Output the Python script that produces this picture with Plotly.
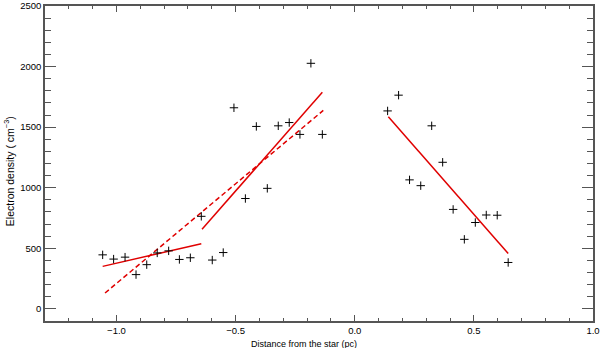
import plotly.graph_objects as go

# Measured electron densities (left and right of the star)
left_x = [-1.058, -1.012, -0.964, -0.918, -0.873, -0.829, -0.781, -0.736, -0.690, -0.644,
          -0.598, -0.552, -0.507, -0.459, -0.413, -0.367, -0.321, -0.275, -0.230, -0.184, -0.136]
left_y = [446, 411, 427, 283, 365, 462, 479, 408, 422, 764,
          403, 465, 1660, 911, 1506, 995, 1511, 1538, 1440, 2027, 1440]

right_x = [0.138, 0.184, 0.230, 0.277, 0.323, 0.369, 0.413, 0.460, 0.506, 0.552, 0.598, 0.644]
right_y = [1634, 1764, 1065, 1017, 1511, 1210, 821, 574, 713, 775, 773, 383]

# Linear fits (end points)
fit_outer_x = [-1.058, -0.644]
fit_outer_y = [351, 538]
fit_inner_x = [-0.641, -0.136]
fit_inner_y = [658, 1788]
fit_all_x = [-1.048, -0.132]
fit_all_y = [131, 1638]
fit_right_x = [0.141, 0.644]
fit_right_y = [1585, 457]

RED = '#e00000'
AX = '#555555'
FONT = 'Liberation Sans'

fig = go.Figure()

for fx, fy, dash in [(fit_outer_x, fit_outer_y, 'solid'),
                     (fit_inner_x, fit_inner_y, 'solid'),
                     (fit_all_x, fit_all_y, '5px,3px'),
                     (fit_right_x, fit_right_y, 'solid')]:
    fig.add_trace(go.Scatter(x=fx, y=fy, mode='lines',
                             line=dict(color=RED, width=1.5, dash=dash),
                             showlegend=False, hoverinfo='skip'))

for px, py in [(left_x, left_y), (right_x, right_y)]:
    fig.add_trace(go.Scatter(x=px, y=py, mode='markers',
                             marker=dict(symbol='cross-thin', size=6,
                                         line=dict(color='black', width=1)),
                             showlegend=False))

axis_common = dict(
    ticks='inside', tickcolor=AX, tickwidth=1.2,
    showline=True, linecolor=AX, linewidth=1.5, mirror='allticks',
    showgrid=False, zeroline=False, automargin=False, ticklabeloverflow='allow',
    tickfont=dict(family=FONT, size=9.5, color='black'),
)

fig.update_xaxes(range=[-1.3, 1.0], tick0=0, dtick=0.5, tickformat='.1f', ticklen=6,
                 minor=dict(dtick=0.1, ticks='inside', ticklen=3, tickcolor=AX, tickwidth=1),
                 **axis_common)
fig.update_yaxes(range=[-100, 2500], tick0=0, dtick=500, ticklen=11,
                 minor=dict(dtick=100, ticks='inside', ticklen=6, tickcolor=AX, tickwidth=1),
                 **axis_common)

fig.add_annotation(text='Distance from the star (pc)', xref='paper', yref='paper',
                   x=0.473, y=-0.05, xanchor='center', yanchor='top', showarrow=False,
                   font=dict(family=FONT, size=9, color='black'))
fig.add_annotation(text='Electron density ( cm<sup>−3</sup>)', xref='paper', yref='paper',
                   x=-0.066, y=0.475, xanchor='center', yanchor='middle', textangle=-90,
                   showarrow=False, font=dict(family=FONT, size=10.5, color='black'))

fig.update_layout(
    width=600, height=348,
    margin=dict(l=45, r=7, t=6, b=27),
    plot_bgcolor='white', paper_bgcolor='white',
)

# drop the default body margin so the figure sits at the window's corner
fig.write_html("out.html", config={'displayModeBar': False},
               post_script="document.body.style.margin='0';")
